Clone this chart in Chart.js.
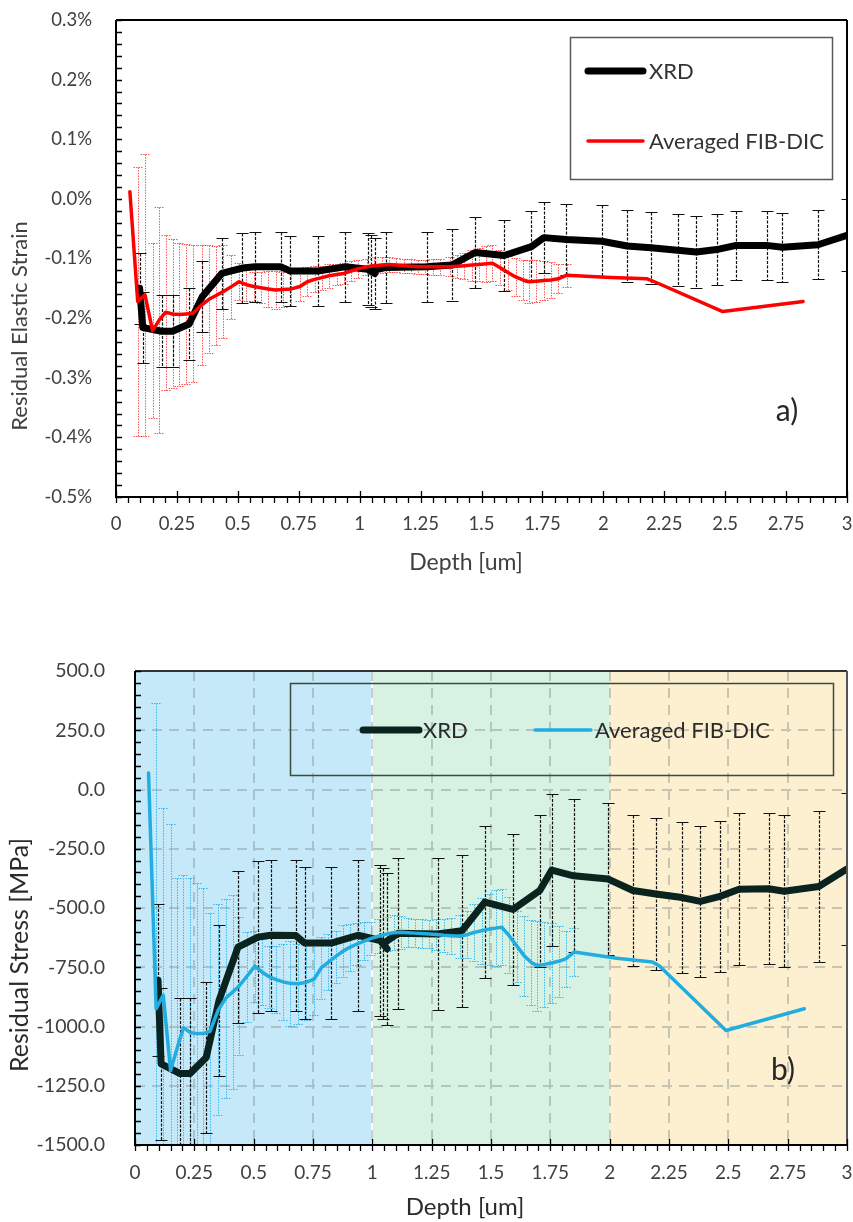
<!DOCTYPE html>
<html>
<head>
<meta charset="utf-8">
<script src="https://cdn.jsdelivr.net/npm/chart.js@4.4.1/dist/chart.umd.min.js"></script>
<style>
  html, body { margin: 0; padding: 0; background: #fff; }
  #wrap { position: relative; width: 853px; height: 1222px; }
  .panel { position: absolute; left: 0; width: 853px; }
  #strainBox { top: 0; height: 590px; }
  #stressBox { top: 600px; height: 622px; }
</style>
</head>
<body>
<div id="wrap">
  <div class="panel" id="strainBox"><canvas id="strainChart"></canvas></div>
  <div class="panel" id="stressBox"><canvas id="stressChart"></canvas></div>
</div>
<script>
// axis ticks
const xTicks = [0, 0.25, 0.5, 0.75, 1, 1.25, 1.5, 1.75, 2, 2.25, 2.5, 2.75, 3];
const strainTicks = [0.3, 0.2, 0.1, 0.0, -0.1, -0.2, -0.3, -0.4, -0.5];
const stressTicks = [500, 250, 0, -250, -500, -750, -1000, -1250, -1500];
const depthZones = [0, 1, 2, 3];

// XRD (depth in um, strain in %, stress in MPa)
const xrdDepth = [0.097, 0.11, 0.188, 0.232, 0.3, 0.354, 0.434, 0.518, 0.571, 0.677,
  0.715, 0.827, 0.94, 1.033, 1.062, 1.046, 1.108, 1.275, 1.378, 1.474,
  1.593, 1.705, 1.756, 1.848, 1.994, 2.098, 2.195, 2.305, 2.382, 2.465,
  2.545, 2.67, 2.735, 2.881, 3.0];
const xrdStrain = [-0.150, -0.216, -0.222, -0.222, -0.21, -0.164, -0.125, -0.116, -0.114, -0.114,
  -0.121, -0.121, -0.114, -0.118, -0.125, -0.121, -0.115, -0.114, -0.111, -0.09,
  -0.095, -0.08, -0.065, -0.068, -0.071, -0.079, -0.082, -0.086, -0.089, -0.085,
  -0.078, -0.078, -0.081, -0.077, -0.061];
const xrdStrainErr = [0.06, 0.06, 0.06, 0.06, 0.06, 0.06, 0.059, 0.059, 0.059, 0.059,
  0.059, 0.059, 0.059, 0.06, 0.06, 0.06, 0.059, 0.059, 0.06, 0.059,
  0.059, 0.06, 0.06, 0.06, 0.06, 0.06, 0.06, 0.06, 0.06, 0.06,
  0.058, 0.058, 0.058, 0.058, 0.06];
const xrdStress = [-805, -1158, -1198, -1198, -1131, -890, -665, -623, -615, -616,
  -648, -648, -615, -637, -672, -650, -607, -610, -596, -475,
  -506, -427, -340, -364, -378, -426, -441, -456, -472, -451,
  -421, -419, -429, -409, -335];
const xrdStressErr = [320, 320, 320, 320, 320, 320, 320, 320, 318, 318,
  320, 320, 318, 320, 320, 320, 320, 320, 320, 322,
  320, 320, 322, 322, 320, 320, 321, 320, 320, 320,
  320, 318, 320, 320, 322];

// averaged FIB-DIC
const fibDepth = [0.057, 0.089, 0.119, 0.15, 0.178, 0.204, 0.232, 0.26, 0.288, 0.316,
  0.351, 0.383, 0.411, 0.438, 0.47, 0.505, 0.535, 0.565, 0.595, 0.625,
  0.655, 0.685, 0.72, 0.755, 0.785, 0.815, 0.845, 0.875, 0.905, 0.935,
  0.965, 0.995, 1.03, 1.06, 1.09, 1.12, 1.15, 1.18, 1.21, 1.24,
  1.27, 1.30, 1.33, 1.37, 1.40, 1.43, 1.46, 1.49, 1.52, 1.545,
  1.575, 1.61, 1.64, 1.67, 1.695, 1.725, 1.755, 1.785, 1.815, 1.85,
  2.03, 2.18, 2.21, 2.49, 2.82];
const fibStrain = [0.012, -0.172, -0.161, -0.221, -0.203, -0.190, -0.193, -0.194, -0.193, -0.192,
  -0.178, -0.168, -0.162, -0.156, -0.148, -0.139, -0.144, -0.147, -0.149, -0.151,
  -0.153, -0.152, -0.151, -0.147, -0.139, -0.135, -0.132, -0.129, -0.127, -0.125,
  -0.121, -0.117, -0.114, -0.112, -0.111, -0.110, -0.111, -0.112, -0.113, -0.114,
  -0.114, -0.114, -0.114, -0.114, -0.113, -0.112, -0.111, -0.110, -0.109, -0.108,
  -0.115, -0.124, -0.131, -0.136, -0.139, -0.138, -0.137, -0.136, -0.134, -0.128,
  -0.132, -0.134, -0.139, -0.189, -0.172];
const fibStrainErr = [0, 0.225, 0.236, 0.147, 0.19, 0.13, 0.125, 0.12, 0.118, 0.115,
  0.10, 0.09, 0.083, 0.078, 0.054, 0.031, 0.028, 0.025, 0.026, 0.03,
  0.032, 0.03, 0.028, 0.025, 0.024, 0.022, 0.02, 0.02, 0.018, 0.017,
  0.016, 0.015, 0.014, 0.014, 0.014, 0.013, 0.012, 0.012, 0.012, 0.012,
  0.012, 0.013, 0.014, 0.016, 0.019, 0.022, 0.026, 0.028, 0.03, 0.03,
  0.03, 0.028, 0.032, 0.034, 0.036, 0.035, 0.033, 0.03, 0.024, 0.019,
  0, 0, 0, 0, 0];
const fibStress = [70, -925, -868, -1186, -1090, -1005, -1025, -1030, -1030, -1020,
  -930, -880, -855, -830, -790, -745, -770, -790, -802, -812,
  -818, -820, -814, -800, -752, -728, -705, -683, -666, -652,
  -640, -628, -618, -610, -604, -602, -604, -606, -608, -610,
  -612, -615, -617, -619, -612, -603, -596, -590, -585, -581,
  -615, -662, -702, -730, -743, -738, -732, -725, -715, -686,
  -712, -728, -745, -1017, -925];
const fibStressErr = [0, 1290, 790, 1040, 715, 645, 650, 635, 615, 500,
  445, 420, 410, 290, 190, 150, 140, 130, 140, 160,
  180, 170, 160, 150, 130, 120, 110, 110, 100, 90,
  80, 70, 70, 70, 75, 70, 60, 60, 60, 60,
  65, 70, 75, 90, 100, 120, 140, 150, 160, 160,
  160, 150, 170, 180, 190, 180, 170, 150, 120, 100,
  0, 0, 0, 0, 0];

Chart.defaults.font.family = 'Lato, "Open Sans", sans-serif';
Chart.defaults.color = '#404040';

function pts(xs, ys) {
  return xs.map((x, i) => ({ x: x, y: ys[i] }));
}

// backgrounds, dashed grid, error bars, frame, minor ticks, legend and titles
const panelDecor = {
  id: 'panelDecor',
  beforeDraw(chart, args, o) {
    const { ctx, chartArea: a, scales: { x } } = chart;
    ctx.save();
    ctx.fillStyle = '#fff';
    ctx.fillRect(0, 0, chart.width, chart.height);
    if (o.bandColors) {
      for (let i = 0; i < depthZones.length - 1; i++) {
        const x0 = x.getPixelForValue(depthZones[i]);
        const x1 = x.getPixelForValue(depthZones[i + 1]);
        ctx.fillStyle = o.bandColors[i];
        ctx.fillRect(x0, a.top, x1 - x0, a.bottom - a.top);
      }
      ctx.strokeStyle = 'rgba(255,255,255,0.9)';
      ctx.lineWidth = 2;
      ctx.beginPath();
      const xb = Math.round(x.getPixelForValue(depthZones[1]));
      ctx.moveTo(xb, a.top); ctx.lineTo(xb, a.bottom);
      ctx.stroke();
    }
    ctx.restore();
  },
  beforeDatasetsDraw(chart, args, o) {
    const { ctx, chartArea: a, scales: { x, y } } = chart;
    ctx.save();
    if (o.grid) {
      ctx.strokeStyle = o.grid.color;
      ctx.lineWidth = o.grid.width;
      ctx.setLineDash(o.grid.dash);
      ctx.beginPath();
      x.ticks.forEach(t => {
        const px = Math.round(x.getPixelForValue(t.value));
        if (px > a.left + 2 && px < a.right - 2) { ctx.moveTo(px, a.top); ctx.lineTo(px, a.bottom); }
      });
      y.ticks.forEach(t => {
        const py = Math.round(y.getPixelForValue(t.value));
        if (py > a.top + 2 && py < a.bottom - 2) { ctx.moveTo(a.left, py); ctx.lineTo(a.right, py); }
      });
      ctx.stroke();
    }
    ctx.beginPath();
    ctx.rect(a.left, a.top, a.right - a.left, a.bottom - a.top);
    ctx.clip();
    const sets = chart.data.datasets;
    for (let i = sets.length - 1; i >= 0; i--) {
      const d = sets[i];
      if (!d.errors) continue;
      ctx.strokeStyle = d.errorColor;
      ctx.lineWidth = d.errorWidth;
      const hw = d.capWidth / 2;
      d.data.forEach((p, j) => {
        const e = d.errors[j];
        if (!e) return;
        const px = Math.round(x.getPixelForValue(p.x)) + 0.5;
        const y0 = Math.round(y.getPixelForValue(p.y + e)) + 0.5;
        const y1 = Math.round(y.getPixelForValue(p.y - e)) + 0.5;
        ctx.setLineDash(d.errorDash);
        ctx.beginPath(); ctx.moveTo(px, y0); ctx.lineTo(px, y1); ctx.stroke();
        ctx.setLineDash(d.capDash);
        ctx.beginPath();
        ctx.moveTo(px - hw, y0); ctx.lineTo(px + hw, y0);
        ctx.moveTo(px - hw, y1); ctx.lineTo(px + hw, y1);
        ctx.stroke();
      });
    }
    ctx.restore();
  },
  afterDatasetsDraw(chart, args, o) {
    const { ctx, chartArea: a, scales: { x, y } } = chart;
    ctx.save();
    ctx.setLineDash([]);

    // frame
    const f = o.frame;
    ctx.lineWidth = f.width;
    ctx.strokeStyle = f.top;
    ctx.beginPath(); ctx.moveTo(a.left, a.top); ctx.lineTo(a.right, a.top); ctx.stroke();
    ctx.strokeStyle = f.right;
    ctx.beginPath(); ctx.moveTo(a.right, a.top); ctx.lineTo(a.right, a.bottom); ctx.stroke();
    ctx.strokeStyle = f.axis;
    ctx.beginPath();
    ctx.moveTo(a.left, a.top); ctx.lineTo(a.left, a.bottom); ctx.lineTo(a.right, a.bottom);
    ctx.stroke();

    // ticks: minor on y (inside), minor on x (outside), major on x (inside)
    ctx.lineWidth = 1.3;
    ctx.beginPath();
    const ny = Math.round((y.max - y.min) / o.yMinor);
    for (let i = 0; i <= ny; i++) {
      const py = Math.round(y.getPixelForValue(y.min + i * o.yMinor)) + 0.5;
      ctx.moveTo(a.left, py); ctx.lineTo(a.left + o.tickLen, py);
    }
    const nx = Math.round((x.max - x.min) / o.xMinor);
    for (let i = 0; i <= nx; i++) {
      const px = Math.round(x.getPixelForValue(x.min + i * o.xMinor)) + 0.5;
      ctx.moveTo(px, a.bottom); ctx.lineTo(px, a.bottom + o.tickLen);
    }
    x.ticks.forEach(t => {
      const px = Math.round(x.getPixelForValue(t.value)) + 0.5;
      ctx.moveTo(px, a.bottom); ctx.lineTo(px, a.bottom - o.tickLen);
    });
    ctx.stroke();

    // legend
    const L = o.legend;
    ctx.strokeStyle = L.border;
    ctx.lineWidth = 1.5;
    ctx.strokeRect(L.box[0] + 0.5, L.box[1] + 0.5, L.box[2], L.box[3]);
    ctx.font = L.font;
    ctx.textBaseline = 'middle';
    ctx.textAlign = 'left';
    L.items.forEach(it => {
      const d = chart.data.datasets[it.dataset];
      ctx.strokeStyle = d.borderColor;
      ctx.lineWidth = d.borderWidth;
      ctx.lineCap = 'round';
      ctx.beginPath(); ctx.moveTo(it.x, it.y); ctx.lineTo(it.x + L.sample, it.y); ctx.stroke();
      ctx.fillStyle = L.color;
      ctx.fillText(d.label, it.x + L.sample + L.gap, it.y + 1);
    });

    // axis titles and panel letter
    ctx.fillStyle = o.titleColor;
    ctx.textAlign = 'center';
    ctx.font = o.xTitle.font;
    ctx.fillText(o.xTitle.text, o.xTitle.x, o.xTitle.y);
    ctx.save();
    ctx.translate(o.yTitle.x, o.yTitle.y);
    ctx.rotate(-Math.PI / 2);
    ctx.font = o.yTitle.font;
    ctx.fillText(o.yTitle.text, 0, 0);
    ctx.restore();
    ctx.fillStyle = '#262626';
    ctx.font = o.letter.font;
    ctx.fillText(o.letter.text, o.letter.x, o.letter.y);
    ctx.restore();
  }
};

function scaleOpts(ticks, fitSize, horizontal, pad, fontSize, fmt) {
  return {
    type: 'linear',
    min: Math.min.apply(null, ticks),
    max: Math.max.apply(null, ticks),
    afterBuildTicks: s => { s.ticks = ticks.map(v => ({ value: v })); },
    afterFit: s => {
      if (horizontal) { s.height = fitSize; } else { s.width = fitSize; }
      s.paddingLeft = 0; s.paddingRight = 0; s.paddingTop = 0; s.paddingBottom = 0;
    },
    grid: { display: false, drawTicks: false },
    border: { display: false },
    ticks: { padding: pad, autoSkip: false, maxRotation: 0, color: '#404040', font: { size: fontSize }, callback: fmt }
  };
}

// a) strain
new Chart(document.getElementById('strainChart'), {
  type: 'line',
  data: {
    datasets: [
      {
        label: 'XRD', data: pts(xrdDepth, xrdStrain), errors: xrdStrainErr,
        borderColor: '#000000', borderWidth: 7, pointRadius: 0, tension: 0,
        borderJoinStyle: 'round', borderCapStyle: 'round', order: 2,
        errorColor: '#111', errorWidth: 1.2, errorDash: [3, 1.5], capDash: [], capWidth: 12
      },
      {
        label: 'Averaged FIB-DIC', data: pts(fibDepth, fibStrain), errors: fibStrainErr,
        borderColor: '#ff0000', borderWidth: 3.5, pointRadius: 0, tension: 0,
        borderJoinStyle: 'round', borderCapStyle: 'round', order: 1,
        errorColor: 'rgba(255,30,30,0.75)', errorWidth: 1, errorDash: [1.5, 1.2], capDash: [1.5, 1], capWidth: 10
      }
    ]
  },
  options: {
    responsive: true, maintainAspectRatio: false, animation: false, devicePixelRatio: 1,
    layout: { padding: { top: 20, right: 6, bottom: 0, left: 0 } },
    scales: {
      x: scaleOpts(xTicks, 93, true, 16, 18.5, v => String(v)),
      y: scaleOpts(strainTicks, 116, false, 24, 18.5, v => v.toFixed(1) + '%')
    },
    plugins: {
      legend: { display: false },
      tooltip: { enabled: false },
      panelDecor: {
        frame: { width: 2, top: '#000', right: '#000', axis: '#000' },
        yMinor: 0.02, xMinor: 0.05, tickLen: 6,
        legend: {
          box: [570, 37, 262, 142], border: '#595959', font: '22px Lato', color: '#333',
          sample: 55, gap: 6,
          items: [{ dataset: 0, x: 588, y: 71 }, { dataset: 1, x: 588, y: 141 }]
        },
        titleColor: '#404040',
        xTitle: { text: 'Depth [um]', x: 466, y: 563, font: '23px Lato' },
        yTitle: { text: 'Residual Elastic Strain', x: 20, y: 326, font: '22px Lato' },
        letter: { text: 'a)', x: 787, y: 411, font: '30px Lato' }
      }
    }
  },
  plugins: [panelDecor]
});

// b) stress
new Chart(document.getElementById('stressChart'), {
  type: 'line',
  data: {
    datasets: [
      {
        label: 'XRD', data: pts(xrdDepth, xrdStress), errors: xrdStressErr,
        borderColor: '#0b231e', borderWidth: 7, pointRadius: 0, tension: 0,
        borderJoinStyle: 'round', borderCapStyle: 'round', order: 2,
        errorColor: '#111', errorWidth: 1.2, errorDash: [3, 1.5], capDash: [], capWidth: 12
      },
      {
        label: 'Averaged FIB-DIC', data: pts(fibDepth, fibStress), errors: fibStressErr,
        borderColor: '#22ade0', borderWidth: 3.5, pointRadius: 0, tension: 0,
        borderJoinStyle: 'round', borderCapStyle: 'round', order: 1,
        errorColor: 'rgba(30,175,235,0.85)', errorWidth: 1, errorDash: [1.5, 1.2], capDash: [1.5, 1], capWidth: 10
      }
    ]
  },
  options: {
    responsive: true, maintainAspectRatio: false, animation: false, devicePixelRatio: 1,
    layout: { padding: { top: 71, right: 6, bottom: 0, left: 0 } },
    scales: {
      x: scaleOpts(xTicks, 77, true, 16, 19, v => String(v)),
      y: scaleOpts(stressTicks, 135, false, 30, 19.5, v => v.toFixed(1))
    },
    plugins: {
      legend: { display: false },
      tooltip: { enabled: false },
      panelDecor: {
        bandColors: ['#c5e9f9', '#d7f1e3', '#fdf0d0'],
        grid: { color: 'rgba(120,135,135,0.4)', width: 2, dash: [10, 7] },
        frame: { width: 2, top: '#333', right: '#555', axis: '#000' },
        yMinor: 50, xMinor: 0.05, tickLen: 6,
        legend: {
          box: [290, 83, 543, 92], border: '#3e4a40', font: '22px Lato', color: '#2b2b2b',
          sample: 56, gap: 4,
          items: [{ dataset: 0, x: 363, y: 130 }, { dataset: 1, x: 535, y: 130 }]
        },
        titleColor: '#2b2b2b',
        xTitle: { text: 'Depth [um]', x: 465, y: 607, font: '24px Lato' },
        yTitle: { text: 'Residual Stress [MPa]', x: 20, y: 355, font: '25px Lato' },
        letter: { text: 'b)', x: 783, y: 470, font: '30px Lato' }
      }
    }
  },
  plugins: [panelDecor]
});
</script>
</body>
</html>
